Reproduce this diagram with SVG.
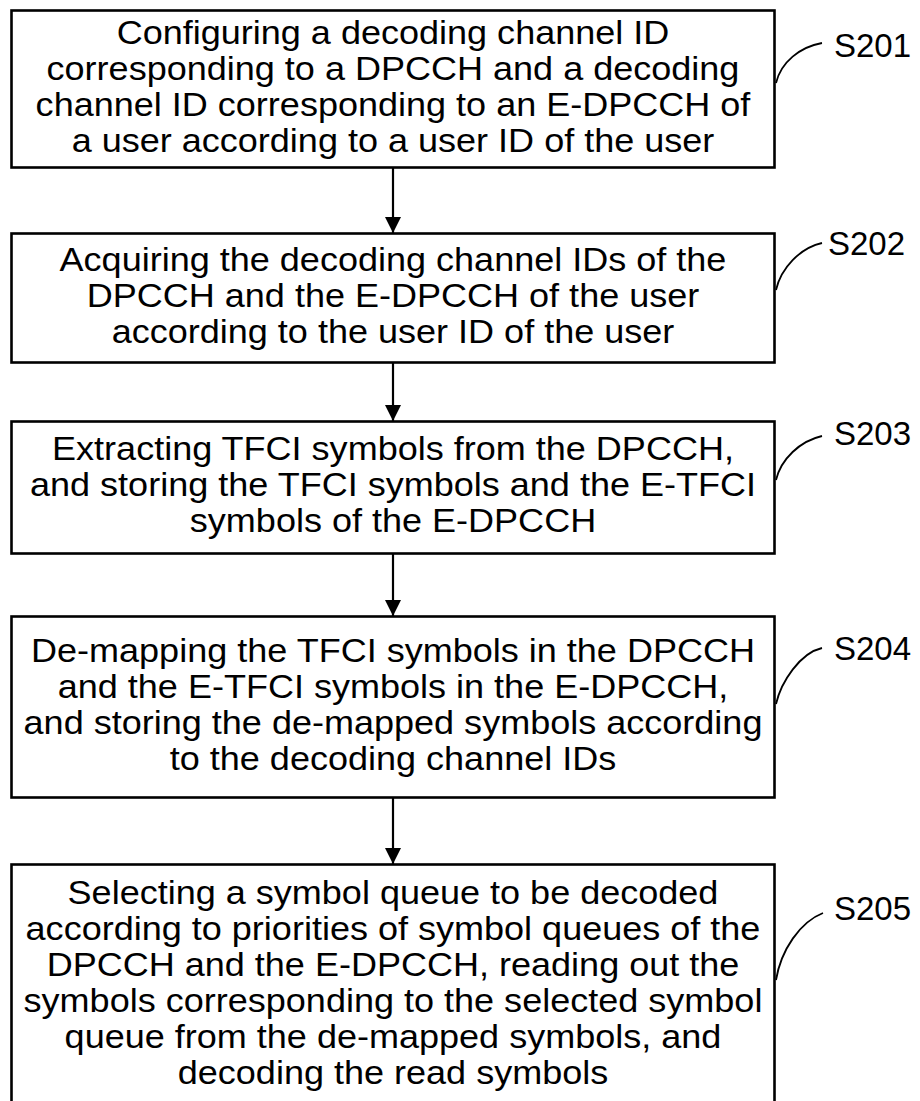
<svg xmlns="http://www.w3.org/2000/svg" width="920" height="1101" viewBox="0 0 920 1101">
  <style>
    .box { fill: #ffffff; stroke: #000000; stroke-width: 2.6; }
    .txt { font-family: "Liberation Sans", Arial, sans-serif; font-size: 34px; fill: #000000; text-anchor: middle; }
    .lbl { font-family: "Liberation Sans", Arial, sans-serif; font-size: 33px; fill: #000000; }
    .lead { fill: none; stroke: #000000; stroke-width: 1.8; }
    .flow { fill: none; stroke: #000000; stroke-width: 2.2; marker-end: url(#head); }
  </style>
  <defs>
    <marker id="head" viewBox="0 0 16 26" refX="16" refY="8" markerWidth="16" markerHeight="26" markerUnits="userSpaceOnUse" orient="auto">
      <path d="M0,0 L26,8 L0,16 Z" fill="#000000" transform="scale(0.615,1)"/>
    </marker>
  </defs>

  <rect width="920" height="1101" fill="#ffffff"/>

  <!-- flow connectors between the steps -->
  <g id="connectors">
    <line class="flow" x1="393" y1="168" x2="393" y2="233"/>
    <line class="flow" x1="393" y1="363" x2="393" y2="421"/>
    <line class="flow" x1="393" y1="554" x2="393" y2="616"/>
    <line class="flow" x1="393" y1="798" x2="393" y2="864"/>
  </g>

  <!-- step texts are widened slightly about the box centre line x=393 -->
  <g id="S201">
    <rect class="box" x="11.5" y="10.5" width="763" height="157"/>
    <g transform="matrix(1.06,0,0,1,-23.58,0)">
      <text class="txt" x="393" y="44">Configuring a decoding channel ID</text>
      <text class="txt" x="393" y="80">corresponding to a DPCCH and a decoding</text>
      <text class="txt" x="393" y="116">channel ID corresponding to an E-DPCCH of</text>
      <text class="txt" x="393" y="152">a user according to a user ID of the user</text>
    </g>
    <path class="lead" d="M776,83 C781,62 800,47 822,43"/>
    <text class="lbl" x="834" y="57">S201</text>
  </g>

  <g id="S202">
    <rect class="box" x="11.5" y="233.5" width="763" height="129"/>
    <g transform="matrix(1.06,0,0,1,-23.58,0)">
      <text class="txt" x="393" y="271">Acquiring the decoding channel IDs of the</text>
      <text class="txt" x="393" y="307">DPCCH and the E-DPCCH of the user</text>
      <text class="txt" x="393" y="343">according to the user ID of the user</text>
    </g>
    <path class="lead" d="M776,290 C781,268 800,248 822,243"/>
    <text class="lbl" x="828" y="255">S202</text>
  </g>

  <g id="S203">
    <rect class="box" x="11.5" y="421.5" width="763" height="132"/>
    <g transform="matrix(1.06,0,0,1,-23.58,0)">
      <text class="txt" x="393" y="460">Extracting TFCI symbols from the DPCCH,</text>
      <text class="txt" x="393" y="496">and storing the TFCI symbols and the E-TFCI</text>
      <text class="txt" x="393" y="532">symbols of the E-DPCCH</text>
    </g>
    <path class="lead" d="M776,480 C781,459 800,441 822,436"/>
    <text class="lbl" x="834" y="445">S203</text>
  </g>

  <g id="S204">
    <rect class="box" x="11.5" y="616.5" width="763" height="181"/>
    <g transform="matrix(1.06,0,0,1,-23.58,0)">
      <text class="txt" x="393" y="662">De-mapping the TFCI symbols in the DPCCH</text>
      <text class="txt" x="393" y="698">and the E-TFCI symbols in the E-DPCCH,</text>
      <text class="txt" x="393" y="734">and storing the de-mapped symbols according</text>
      <text class="txt" x="393" y="770">to the decoding channel IDs</text>
    </g>
    <path class="lead" d="M776,704 C781,682 800,653 822,648"/>
    <text class="lbl" x="834" y="660">S204</text>
  </g>

  <g id="S205">
    <rect class="box" x="11.5" y="864.5" width="763" height="245"/>
    <g transform="matrix(1.06,0,0,1,-23.58,0)">
      <text class="txt" x="393" y="904">Selecting a symbol queue to be decoded</text>
      <text class="txt" x="393" y="940">according to priorities of symbol queues of the</text>
      <text class="txt" x="393" y="976">DPCCH and the E-DPCCH, reading out the</text>
      <text class="txt" x="393" y="1012">symbols corresponding to the selected symbol</text>
      <text class="txt" x="393" y="1048">queue from the de-mapped symbols, and</text>
      <text class="txt" x="393" y="1084">decoding the read symbols</text>
    </g>
    <path class="lead" d="M776,980 C781,950 800,922 823,913"/>
    <text class="lbl" x="834" y="920">S205</text>
  </g>
</svg>
